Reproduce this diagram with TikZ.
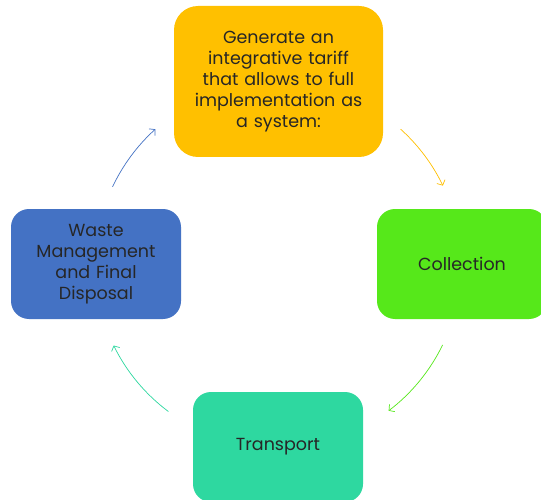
\documentclass[tikz,border=0pt]{standalone}
\usepackage{fontspec}
\setmainfont{Poppins}
\usepackage{xcolor}
\usepackage{tikz}
\usetikzlibrary{arrows.meta}

\definecolor{stepgold}{HTML}{FFC000}
\definecolor{stepgreen}{HTML}{56E81A}
\definecolor{stepblue}{HTML}{4472C4}
\definecolor{stepteal}{HTML}{2ED8A0}
\definecolor{steptext}{HTML}{262626}

\begin{document}
\begin{tikzpicture}[x=1pt,y=-1pt,
        stepbox/.style={rectangle, rounded corners=18pt, inner sep=0pt,
            minimum width=170pt, minimum height=110pt, text width=160pt,
            align=center, text=steptext,
            font=\fontsize{17.5}{21}\selectfont},
        cyclearrow/.style={-{Straight Barb[length=4pt,width=9pt]}, line width=0.7pt}]
        % Frame of the picture
        \clip (0,0) rectangle (541,500);
        \fill[white] (0,0) rectangle (541,500);

        % Centre and radius of the cycle
        \def\cx{278}
        \def\cy{265}
        \def\r{183}

        % The four steps
        \node[stepbox, fill=stepgold, rounded corners=24pt,
            minimum width=209pt, minimum height=151pt, text width=200pt]
            (tariff) at (278.5,81.5)
            {Generate an\\integrative tariff\\that allows to full\\implementation as\\a system:};
        \node[stepbox, fill=stepgreen] (collection) at (462,264) {Collection};
        \node[stepbox, fill=stepteal] (transport) at (278,447) {Transport};
        \node[stepbox, fill=stepblue] (disposal) at (96,264)
            {Waste\\Management\\and Final\\Disposal};

        % Arrows along the circle (y grows downwards, so angles are negated)
        \foreach \name/\a/\b/\col in {up/-154.7/-132.1/stepblue, right/-47.9/-25.7/stepgold,
                down/25.9/52.8/stepgreen, left/126.8/153.9/stepteal} {
            \coordinate (\name) at ([shift={(\a:\r)}]\cx,\cy);
            \draw[cyclearrow, \col] (\name) arc[start angle=\a, end angle=\b, radius=\r];
        }
    \end{tikzpicture}
\end{document}
